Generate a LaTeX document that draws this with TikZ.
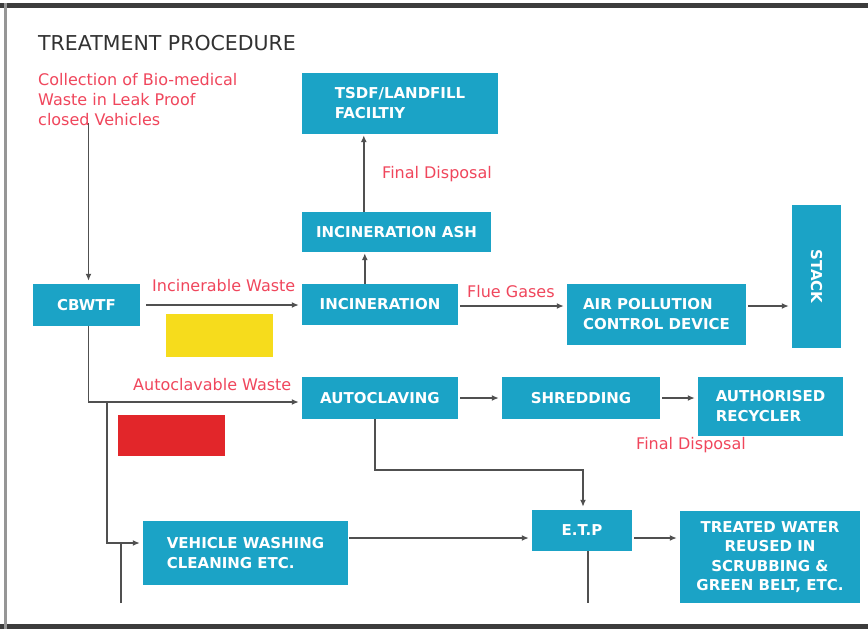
\documentclass[tikz,border=0pt]{standalone}
\usepackage{fontspec}
\usepackage{graphicx}
\setmainfont{DejaVu Sans}
\usetikzlibrary{arrows.meta,calc}

\definecolor{boxcyan}{RGB}{27,163,198}
\definecolor{redtext}{RGB}{240,70,92}
\definecolor{yellowpatch}{RGB}{246,220,28}
\definecolor{redpatch}{RGB}{226,38,42}
\definecolor{linegray}{RGB}{80,80,80}
\definecolor{titlegray}{RGB}{50,50,50}
\definecolor{framedark}{RGB}{60,60,60}
\definecolor{framegray}{RGB}{150,150,150}

\begin{document}
\begin{tikzpicture}[x=1pt,y=-1pt,
  stage/.style={fill=boxcyan,text=white,font=\bfseries\fontsize{15}{20}\selectfont,
    align=left,inner sep=0pt},
  flowlbl/.style={text=redtext,font=\fontsize{16}{20}\selectfont,inner sep=0pt},
  flow/.style={draw=linegray,line width=1.7pt,-{Latex[length=7pt,width=6pt]},shorten >=3pt},
  plain/.style={draw=linegray,line width=1.7pt}]

\useasboundingbox (0,0) rectangle (868,629);
\fill[white] (0,0) rectangle (868,629);

% page frame
\fill[framedark] (0,3) rectangle (868,8);
\fill[framedark] (0,624) rectangle (868,629);
\fill[framegray] (4,3) rectangle (7,629);

% heading and source note
\node[anchor=base west,text=titlegray,font=\fontsize{20.5}{24}\selectfont,inner sep=0pt]
  (title) at (38,50) {TREATMENT PROCEDURE};
\node[flowlbl,anchor=north west,align=left] (collect) at (38,73)
  {Collection of Bio-medical\\Waste in Leak Proof\\closed Vehicles};

% process stages
\node[stage,minimum width=196,minimum height=61] (tsdf)  at (400,103.5) {TSDF/LANDFILL\\FACILTIY};
\node[stage,minimum width=189,minimum height=40] (ash)   at (396.5,232) {INCINERATION ASH};
\node[stage,minimum width=156,minimum height=41] (incin) at (380,304.5) {INCINERATION};
\node[stage,minimum width=179,minimum height=61] (apc)   at (656.5,314.5) {AIR POLLUTION\\CONTROL DEVICE};
\node[stage,minimum width=49,minimum height=143] (stack) at (816.5,276.5) {\rotatebox{-90}{STACK}};
\node[stage,minimum width=107,minimum height=42] (cbwtf) at (86.5,305) {CBWTF};
\node[stage,minimum width=156,minimum height=42] (auto)  at (380,398) {AUTOCLAVING};
\node[stage,minimum width=158,minimum height=42] (shred) at (581,398) {SHREDDING};
\node[stage,minimum width=145,minimum height=59] (recyc) at (770.5,406.5) {AUTHORISED\\RECYCLER};
\node[stage,minimum width=205,minimum height=64] (veh)   at (245.5,553) {VEHICLE WASHING\\CLEANING ETC.};
\node[stage,minimum width=100,minimum height=41] (etp)   at (582,530.5) {E.T.P};
\node[stage,minimum width=180,minimum height=92,align=center,
  font=\bfseries\fontsize{15}{19.5}\selectfont] (treat) at (770,557)
  {TREATED WATER\\REUSED IN\\SCRUBBING \&\\GREEN BELT, ETC.};

% colour-coded bin patches
\fill[yellowpatch] (166,314) rectangle (273,357);
\fill[redpatch] (118,415) rectangle (225,456);

% flow labels
\node[flowlbl,anchor=base west] (lblinc)  at (152,291) {Incinerable Waste};
\node[flowlbl,anchor=base west] (lblfin1) at (382,178) {Final Disposal};
\node[flowlbl,anchor=base west] (lblflue) at (467,297) {Flue Gases};
\node[flowlbl,anchor=base west] (lblauto) at (133,390) {Autoclavable Waste};
\node[flowlbl,anchor=base west] (lblfin2) at (636,449) {Final Disposal};

% helper points
\coordinate (split) at (107,402);
\coordinate (vin) at (121,603);
\coordinate (flue) at ([yshift=-1.5pt]incin.east);
\coordinate (etpin) at ([yshift=-7.5pt]etp.west);
\coordinate (etpout) at ([yshift=-7.5pt]etp.east);
\coordinate (autoin) at ([yshift=-4pt]auto.west);
\coordinate (vehin) at ([yshift=10pt]veh.west);

% connectors
\draw[flow,shorten <=-3pt] ([xshift=2pt]cbwtf.north |- collect.south) -- ([xshift=2pt]cbwtf.north);
\draw[flow,shorten <=6pt] (cbwtf.east) -- (cbwtf.east -| incin.west);
\draw[flow,shorten >=1pt] ([xshift=63pt]incin.north west) -- ([xshift=63pt]ash.south west);
\draw[flow,shorten >=1pt] ([xshift=62pt]ash.north west) -- ([xshift=62pt]tsdf.south west);
\draw[flow,shorten <=2pt] (flue) -- (flue -| apc.west);
\draw[flow,shorten <=2pt] (flue -| apc.east) -- (flue -| stack.west);
\draw[flow] ([xshift=2pt]cbwtf.south) |- (autoin);
\draw[flow] (split) |- (vehin);
\draw[plain] (vin) -- (vin |- vehin);
\draw[flow,shorten <=2pt] (auto.east) -- (shred.west);
\draw[flow,shorten <=2pt] (shred.east) -- (shred.east -| recyc.west);
\draw[flow] ([xshift=-5pt]auto.south) -- ++(0,51) -| ([xshift=1pt]etp.north);
\draw[flow,shorten <=1pt] (veh.east |- etpin) -- (etpin);
\draw[flow,shorten <=2pt] (etpout) -- (etpout -| treat.west);
\draw[plain] ([xshift=6pt]etp.south) -- ++(0,52);
\end{tikzpicture}
\end{document}
